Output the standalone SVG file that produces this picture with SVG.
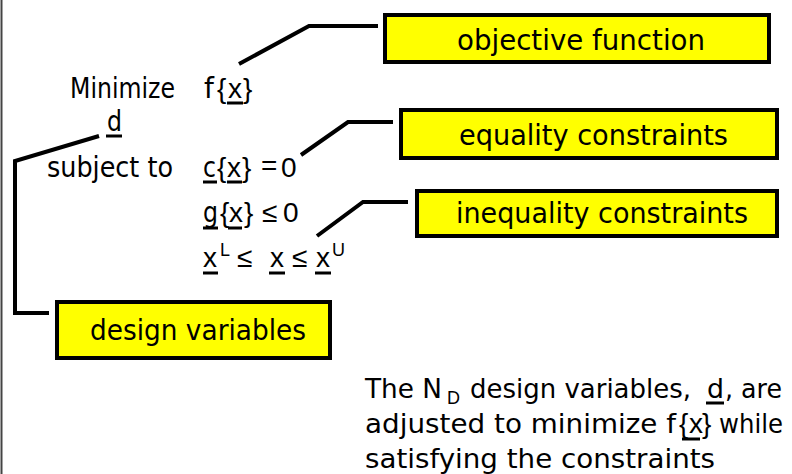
<svg xmlns="http://www.w3.org/2000/svg" width="792" height="474" viewBox="0 0 792 474">
<style>
.box{fill:#ffff00;stroke:#000;stroke-width:4}
.lbl{font-family:"DejaVu Sans",sans-serif;font-size:28px;fill:#000}
.m{font-family:"Liberation Sans",Arial,sans-serif;font-size:28px;fill:#000}
.sup{font-family:"Liberation Sans",Arial,sans-serif;font-size:18px;fill:#000}
.par{font-family:"DejaVu Sans",sans-serif;font-size:27px;fill:#000}
.ul{stroke:#000;stroke-width:3}
.conn{fill:none;stroke:#000;stroke-width:4;stroke-linejoin:miter}
</style>
<rect x="0" y="0" width="792" height="474" fill="#fff"/>
<line x1="1.5" y1="0" x2="1.5" y2="474" stroke="#444" stroke-width="2"/>

<g id="connectors">
<polyline class="conn" points="239,64 309,26 378,26"/>
<polyline class="conn" points="301,155 348,122 393,122"/>
<polyline class="conn" points="317,236 363,202 408,202"/>
<polyline class="conn" points="99,136 15,161 15,313 49,313"/>
</g>

<g id="objective">
<rect class="box" x="385" y="15" width="384" height="47"/>
<text class="lbl" x="457" y="50" textLength="248" lengthAdjust="spacingAndGlyphs">objective function</text>
</g>
<g id="equality">
<rect class="box" x="401" y="110" width="376" height="48"/>
<text class="lbl" x="459" y="145" textLength="269" lengthAdjust="spacingAndGlyphs">equality constraints</text>
</g>
<g id="inequality">
<rect class="box" x="417" y="191" width="360" height="45"/>
<text class="lbl" x="456" y="223" textLength="292" lengthAdjust="spacingAndGlyphs">inequality constraints</text>
</g>
<g id="design">
<rect class="box" x="57" y="302" width="273" height="56"/>
<text class="lbl" x="90" y="340" textLength="216" lengthAdjust="spacingAndGlyphs">design variables</text>
</g>

<g id="formulation">
<text class="lbl" x="70" y="98" textLength="105" lengthAdjust="spacingAndGlyphs">Minimize</text>
<text class="lbl" x="204" y="98">f</text>
<text class="m" x="217" y="98">{</text>
<text class="m" x="228" y="98">x</text>
<text class="m" x="243" y="98">}</text>
<line class="ul" x1="227" y1="103" x2="243" y2="103"/>

<text class="lbl" x="107" y="131" textLength="15" lengthAdjust="spacingAndGlyphs">d</text>
<line class="ul" x1="106" y1="136" x2="122" y2="136"/>

<text class="lbl" x="47" y="177" textLength="126" lengthAdjust="spacingAndGlyphs">subject to</text>
<text class="lbl" x="203" y="177" font-size="25" textLength="13" lengthAdjust="spacingAndGlyphs">c</text>
<line class="ul" x1="203" y1="182" x2="217" y2="182"/>
<text class="m" x="217" y="177">{</text>
<text class="m" x="227" y="177">x</text>
<line class="ul" x1="227" y1="182" x2="242" y2="182"/>
<text class="m" x="242" y="177">}</text>
<text class="m" x="261" y="175" font-size="22">=</text>
<text class="m" x="281" y="177">0</text>

<text class="lbl" x="203" y="222" font-size="24" textLength="15" lengthAdjust="spacingAndGlyphs">g</text>
<line class="ul" x1="203" y1="228" x2="218" y2="228"/>
<text class="m" x="220" y="222">{</text>
<text class="m" x="229" y="222">x</text>
<line class="ul" x1="228" y1="228" x2="242" y2="228"/>
<text class="m" x="244" y="222">}</text>
<text class="m" x="262" y="222">≤</text>
<text class="m" x="283" y="222">0</text>

<text class="m" x="203" y="267">x</text>
<line class="ul" x1="203" y1="273" x2="218" y2="273"/>
<text class="sup" x="220" y="256">L</text>
<text class="m" x="237" y="267">≤</text>
<text class="m" x="270" y="267">x</text>
<line class="ul" x1="269" y1="273" x2="285" y2="273"/>
<text class="m" x="292" y="267">≤</text>
<text class="m" x="316" y="267">x</text>
<line class="ul" x1="315" y1="273" x2="331" y2="273"/>
<text class="sup" x="332" y="256">U</text>
</g>

<g id="note">
<text class="par" x="365" y="398" textLength="77" lengthAdjust="spacingAndGlyphs">The N</text>
<text class="sup" x="447" y="404" font-size="19">D</text>
<text class="par" x="470" y="398" textLength="221" lengthAdjust="spacingAndGlyphs">design variables,</text>
<text class="par" x="707" y="398" textLength="17" lengthAdjust="spacingAndGlyphs">d</text>
<line class="ul" x1="706" y1="403" x2="724" y2="403"/>
<text class="par" x="725" y="398" textLength="57" lengthAdjust="spacingAndGlyphs">, are</text>
<text class="par" x="365" y="433" textLength="311" lengthAdjust="spacingAndGlyphs">adjusted to minimize f</text>
<text class="m" x="679" y="433" font-size="27">{</text>
<text class="m" x="689" y="433" font-size="25">x</text>
<line class="ul" x1="682" y1="439" x2="700" y2="439"/>
<text class="m" x="702" y="433" font-size="27">}</text>
<text class="par" x="719" y="433" textLength="64" lengthAdjust="spacingAndGlyphs">while</text>
<text class="par" x="365" y="468" textLength="350" lengthAdjust="spacingAndGlyphs">satisfying the constraints</text>
</g>
</svg>
